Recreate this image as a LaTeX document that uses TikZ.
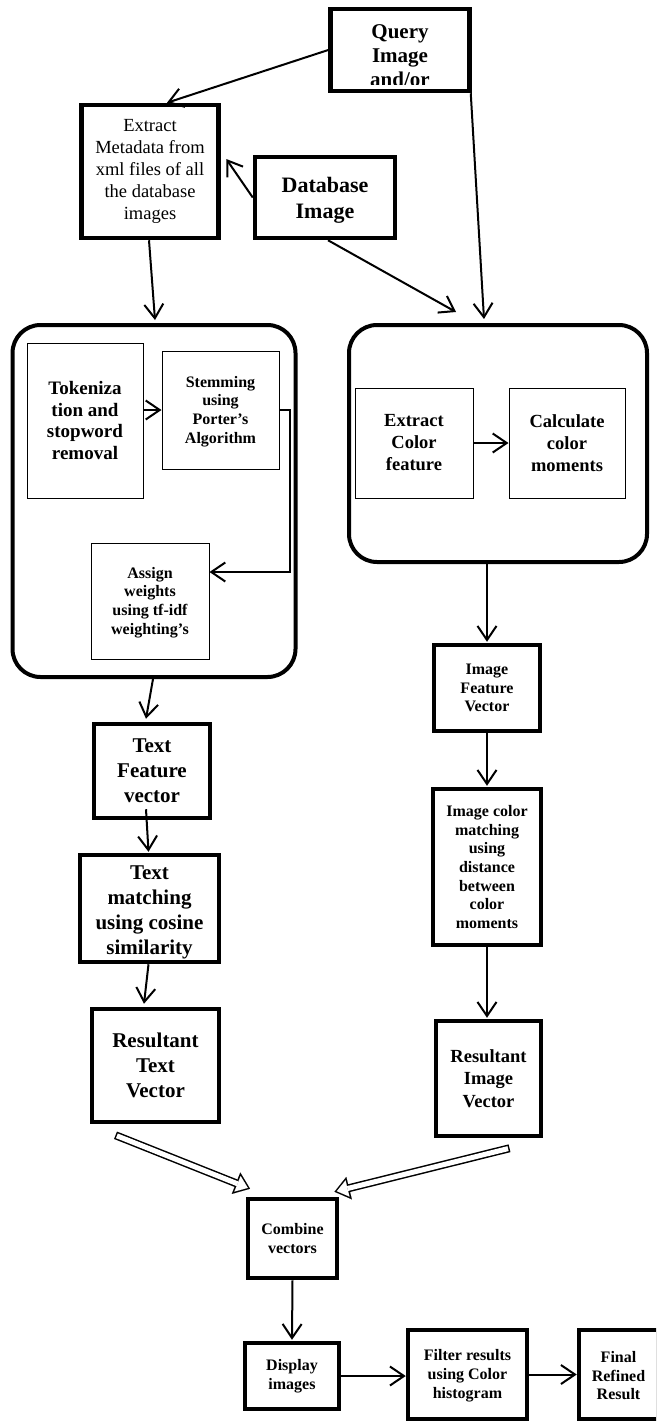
\documentclass[tikz,border=0pt]{standalone}
\usepackage{fontspec}
\setmainfont{Liberation Serif}
\usetikzlibrary{arrows.meta}
\tikzset{
  tbox/.style={draw, line width=4.5pt, inner sep=0pt, align=center},
  thinbox/.style={draw, line width=1pt, inner sep=0pt, align=center},
  rbox/.style={draw, line width=4pt, rounded corners=28pt, inner sep=0pt},
  conn/.style={line width=2pt, -{Straight Barb[length=14pt,width=19pt]}},
  hollowout/.style={line width=8pt, -{Triangle[length=15pt,width=23pt,line width=0.01pt]}},
  hollowin/.style={white, line width=5pt, shorten <=1.5pt, shorten >=2.4pt, -{Triangle[length=11pt,width=16.6pt,line width=0.01pt]}},
  fbig/.style={font=\bfseries\fontsize{21}{25}\selectfont},
  fmid/.style={font=\bfseries\fontsize{18.5}{22}\selectfont},
  fsmall/.style={font=\bfseries\fontsize{16}{18.7}\selectfont}
}
\begin{document}
\begin{tikzpicture}[x=1pt,y=-1pt]
\clip (0,0) rectangle (656,1424);
\useasboundingbox (0,0) rectangle (656,1424);

% top row
\node[tbox, minimum width=139pt, minimum height=82pt] (query) at (400,50) {};
\begin{scope}
  \clip (331,10) rectangle (468,84);
  \node[align=center, inner sep=0pt, font=\bfseries\fontsize{21}{24}\selectfont] (querytext) at (400,56) {Query\\Image\\and/or};
\end{scope}
\node[tbox, minimum width=137pt, minimum height=133pt, font=\fontsize{18.5}{22}\selectfont] (extract) at (150,171.5) {Extract\\Metadata from\\xml files of all\\the database\\images};
\node[tbox, minimum width=140pt, minimum height=81pt, font=\bfseries\fontsize{22}{26.5}\selectfont] (database) at (325,197.5) {\mbox{}\\[-6pt]Database\\Image};

% rounded containers
\node[rbox, minimum width=283pt, minimum height=352pt] (lround) at (154,501) {};
\node[rbox, minimum width=298pt, minimum height=237pt] (rround) at (498,443.5) {};

% inner boxes left
\node[thinbox, font=\bfseries\fontsize{19}{21.7}\selectfont, minimum width=116pt, minimum height=155pt] (tok) at (85,420.5) {Tokeniza\\tion and\\stopword\\removal};
\node[thinbox, fsmall, minimum width=117pt, minimum height=118pt] (stem) at (220.5,410) {\mbox{}\\[-5pt]Stemming\\using\\Porter’s\\Algorithm};
\node[thinbox, fsmall, minimum width=118pt, minimum height=116pt] (assign) at (150,601) {\mbox{}\\[-5pt]Assign\\weights\\using tf-idf\\weighting’s};

% inner boxes right
\node[thinbox, fmid, minimum width=118pt, minimum height=110pt] (ecf) at (414,443) {Extract\\Color\\feature};
\node[thinbox, fmid, minimum width=116pt, minimum height=110pt] (calc) at (567,443) {Calculate\\color\\moments};

% left column
\node[tbox, fbig, minimum width=116pt, minimum height=94pt] (tfv) at (152,771) {Text\\Feature\\vector};
\node[tbox, fbig, minimum width=139pt, minimum height=107pt] (tm) at (149.5,908.5) {\mbox{}\\[-3pt]Text\\matching\\using cosine\\similarity};
\node[tbox, fbig, minimum width=127pt, minimum height=113pt] (rtv) at (155.5,1065.5) {Resultant\\Text\\Vector};

% right column
\node[tbox, fsmall, minimum width=106pt, minimum height=86pt] (ifv) at (487,688) {Image\\Feature\\Vector};
\node[tbox, fsmall, minimum width=108pt, minimum height=156pt] (icm) at (487,867) {Image color\\matching\\using\\distance\\between\\color\\moments};
\node[tbox, font=\bfseries\fontsize{18.5}{22.5}\selectfont, minimum width=105pt, minimum height=115pt] (riv) at (488.5,1078.5) {Resultant\\Image\\Vector};

% bottom
\node[tbox, fsmall, minimum width=89pt, minimum height=79pt] (combine) at (292.5,1238.5) {Combine\\vectors};
\node[tbox, fsmall, minimum width=94pt, minimum height=66pt] (display) at (292,1376) {Display\\images};
\node[tbox, fsmall, minimum width=119pt, minimum height=89pt] (filter) at (467.5,1374.5) {\mbox{}\\[-5pt]Filter results\\using Color\\histogram};
\node[tbox, fsmall, minimum width=79pt, minimum height=89pt] (final) at (618.5,1374.5) {\mbox{}\\[-5pt]Final\\Refined\\Result};

% connectors top
\draw[conn] (query.west) -- ([xshift=17pt]extract.north);
\draw[conn] (database.west) -- ([shift={(5.5pt,12.5pt)}]extract.east);
\draw[conn] ([xshift=-1pt]extract.south) -- ([shift={(1pt,3pt)}]lround.north);
\draw[conn] ([xshift=3pt]database.south) -- ([shift={(-42pt,11pt)}]rround.north);
\draw[conn] ([xshift=-1pt]query.south east) -- ([shift={(-14pt,4pt)}]rround.north);

% inside left container
\draw[conn] (tok.east |- stem.west) -- (stem.west);
\draw[conn] (stem.east) -- ++(10.5,0) |- ([yshift=29pt]assign.east);
% inside right container
\draw[conn] (ecf.east) -- (calc.west);

% columns
\draw[conn] ([xshift=-1pt]lround.south) -- ([shift={(-6pt,3pt)}]tfv.north);
\draw[conn] ([shift={(-6pt,11pt)}]tfv.south) -- ([shift={(-1pt,1pt)}]tm.north);
\draw[conn] ([xshift=-1pt]tm.south) -- ([shift={(-11.5pt,3pt)}]rtv.north);

\draw[conn] (ifv.north |- rround.south) -- ([yshift=1pt]ifv.north);
\draw[conn] (ifv.south) -- ([yshift=1pt]icm.north);
\draw[conn] (icm.south) -- ([yshift=1pt]icm.south |- riv.north);

% hollow arrows
\draw[hollowout] ([shift={(-40pt,-11pt)}]rtv.south) -- ([shift={(-42.5pt,8pt)}]combine.north);
\draw[hollowin]  ([shift={(-40pt,-11pt)}]rtv.south) -- ([shift={(-42.5pt,8pt)}]combine.north);
\draw[hollowout] ([shift={(21pt,-10pt)}]riv.south) -- ([shift={(42pt,5pt)}]combine.north);
\draw[hollowin]  ([shift={(21pt,-10pt)}]riv.south) -- ([shift={(42pt,5pt)}]combine.north);

% bottom row
\draw[conn] (combine.south) -- ([yshift=1pt]display.north);
\draw[conn] (display.east) -- (display.east -| filter.west);
\draw[conn] (filter.east) -- (filter.east -| final.west);
\end{tikzpicture}
\end{document}
